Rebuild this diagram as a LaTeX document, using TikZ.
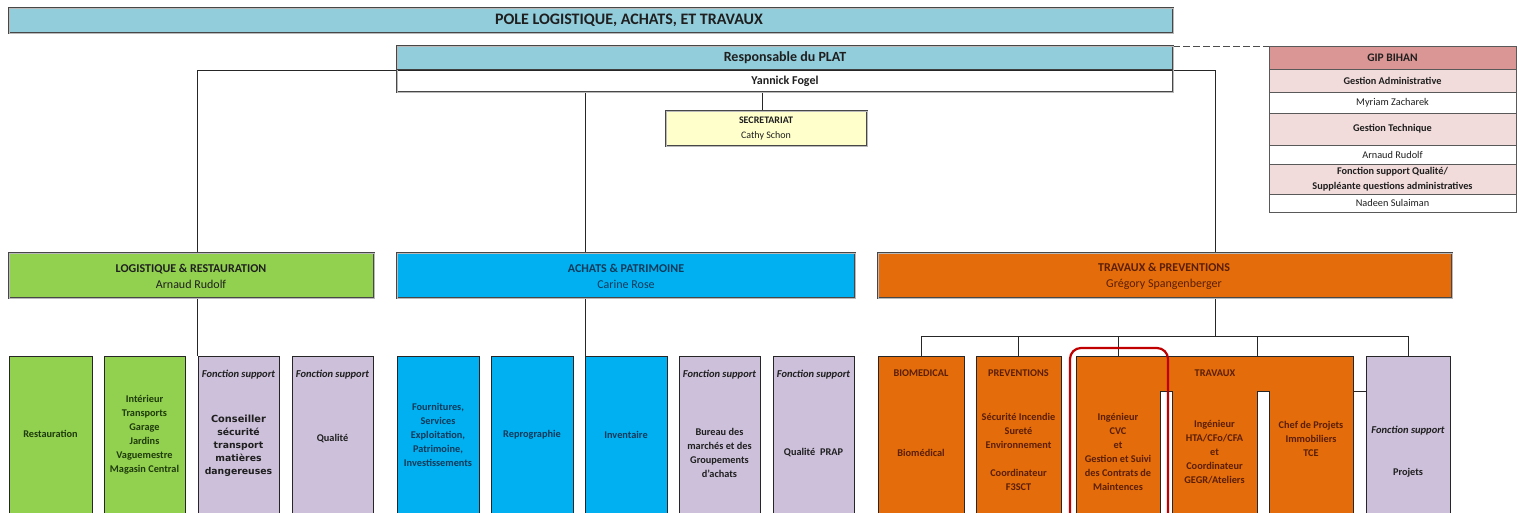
\documentclass[tikz,border=0pt]{standalone}
\usepackage{fontspec}
\setmainfont{Carlito}
\newfontfamily\verdfont{DejaVu Sans}
\definecolor{bannerblue}{HTML}{92CDDC}
\definecolor{lgreen}{HTML}{92D050}
\definecolor{lblue}{HTML}{00B0F0}
\definecolor{lorange}{HTML}{E46C0A}
\definecolor{lilac}{HTML}{CCC0DA}
\definecolor{lyellow}{HTML}{FFFFCC}
\definecolor{rose}{HTML}{DA9694}
\definecolor{pinkl}{HTML}{F2DCDB}
\definecolor{redframe}{HTML}{C00000}
\definecolor{tgreen}{HTML}{1E3B0A}
\definecolor{tblue}{HTML}{103A5A}
\definecolor{tbrown}{HTML}{5A1E05}
\definecolor{tdark}{HTML}{1F1F1F}
\pgfdeclarelayer{back}
\pgfdeclarelayer{bg}
\pgfsetlayers{back,bg,main}
\tikzset{
  every node/.style={inner sep=0pt, outer sep=0pt},
  conn/.style={draw=black!85, line width=0.9pt},
  dblbox/.style={draw=black!72, line width=0.8pt, double=gray!55, double distance=0.9pt},
  cell/.style={draw=black!85, line width=0.8pt},
  gipcell/.style={draw=black!65, line width=0.6pt},
  txt/.style={align=center, font=\fontsize{10.3}{14}\selectfont\bfseries},
  fs/.style={font=\fontsize{10.5}{14}\selectfont\bfseries\itshape, text=tdark},
  deptt/.style={align=center, font=\fontsize{12}{16}\selectfont},
  giptxt/.style={align=center, font=\fontsize{10.3}{15}\selectfont, text=tdark},
}
\newcommand\bx[6]{\node[#2, anchor=north west, minimum width={#5-#3}, minimum height={#6-#4}] (#1) at (#3,#4) {};}
\begin{document}
\begin{tikzpicture}[x=1pt,y=-1pt]
\useasboundingbox (0,0) rectangle (1521,513);
\clip (0,0) rectangle (1521,513);
\begin{pgfonlayer}{back}
\fill[white] (0,0) rectangle (1521,513);
\end{pgfonlayer}

% banner
\bx{banner}{dblbox, fill=bannerblue}{9}{8}{1173}{33}
\node[font=\fontsize{16}{18}\selectfont\bfseries, text=tdark] (bannert) at (629,20.5) {POLE LOGISTIQUE, ACHATS, ET TRAVAUX};

% responsable
\bx{resphead}{fill=bannerblue}{397}{46}{1173}{69}
\bx{resp}{dblbox, fill=none}{397}{46}{1173}{92}
\draw[black!75, line width=0.8pt] (resphead.south west) -- (resphead.south east);
\node[font=\fontsize{14}{16}\selectfont\bfseries, text=tdark] (respt) at (785,58) {Responsable du PLAT};
\node[font=\fontsize{12}{14}\selectfont\bfseries, text=tdark] (respn) at (785,81) {Yannick Fogel};

% secretariat
\bx{secr}{dblbox, fill=lyellow}{666}{111}{867}{146}
\node[font=\fontsize{10}{15}\selectfont, align=center, text=tdark] (secrt) at (766,128.5) {\textbf{SECRETARIAT}\\Cathy Schon};

% GIP BIHAN
\bx{gip0}{gipcell, fill=rose}{1269}{46}{1516}{69}
\bx{gip1}{gipcell, fill=pinkl}{1269}{69}{1516}{92}
\bx{gip2}{gipcell, fill=white}{1269}{92}{1516}{113}
\bx{gip3}{gipcell, fill=pinkl}{1269}{113}{1516}{145}
\bx{gip4}{gipcell, fill=white}{1269}{145}{1516}{164}
\bx{gip5}{gipcell, fill=pinkl}{1269}{164}{1516}{194}
\bx{gip6}{gipcell, fill=white}{1269}{194}{1516}{212}
\node[giptxt, font=\fontsize{11.5}{13}\selectfont\bfseries] (gipt0) at (gip0.center) {GIP BIHAN};
\node[giptxt, font=\fontsize{10.3}{12}\selectfont\bfseries] (gipt1) at (gip1.center) {Gestion Administrative};
\node[giptxt] (gipt2) at (gip2.center) {Myriam Zacharek};
\node[giptxt, font=\fontsize{10.3}{12}\selectfont\bfseries] (gipt3) at (gip3.center) {Gestion Technique};
\node[giptxt] (gipt4) at (gip4.center) {Arnaud Rudolf};
\node[giptxt, font=\fontsize{10.3}{15}\selectfont\bfseries] (gipt5) at (1392.5,179) {Fonction support Qualité/\\Suppléante questions administratives};
\node[giptxt] (gipt6) at (gip6.center) {Nadeen Sulaiman};

% departments
\bx{logi}{dblbox, fill=lgreen}{9}{253}{374}{298}
\bx{acha}{dblbox, fill=lblue}{397}{253}{855}{298}
\bx{trav}{dblbox, fill=lorange}{878}{253}{1452}{298}
\node[deptt, text=tdark] (logit) at (191,276) {\textbf{LOGISTIQUE \& RESTAURATION}\\Arnaud Rudolf};
\node[deptt, text=tblue] (achat) at (626,276) {\textbf{ACHATS \& PATRIMOINE}\\Carine Rose};
\node[deptt, text=tbrown] (travt) at (1164,276) {\textbf{TRAVAUX \& PREVENTIONS}\\Grégory Spangenberger};

% bottom boxes
\bx{resto}{cell, fill=lgreen}{9}{356}{92}{530}
\bx{inter}{cell, fill=lgreen}{104}{356}{185}{530}
\bx{cons}{cell, fill=lilac}{198}{356}{279}{530}
\bx{qual}{cell, fill=lilac}{292}{356}{373}{530}
\bx{fourn}{cell, fill=lblue}{397}{356}{479}{530}
\bx{repro}{cell, fill=lblue}{491}{356}{573}{530}
\bx{inv}{cell, fill=lblue}{585}{356}{667}{530}
\bx{bur}{cell, fill=lilac}{679}{356}{760}{530}
\bx{prap}{cell, fill=lilac}{773}{356}{854}{530}
\bx{bio}{cell, fill=lorange}{878}{356}{964}{530}
\bx{prev}{cell, fill=lorange}{976}{356}{1061}{530}
\filldraw[cell, fill=lorange] (1076,356) -- (1353,356) -- (1353,530) -- (1269,530) -- (1269,391) -- (1257,391) -- (1257,530) -- (1172,530) -- (1172,391) -- (1160,391) -- (1160,530) -- (1076,530) -- cycle;
\coordinate (cvctop) at (1118,356);
\coordinate (travtop) at (1257,356);
\coordinate (travright) at (1353,391);
\bx{proj}{cell, fill=lilac}{1366}{356}{1450}{530}

% texts of bottom boxes
\node[txt, text=tgreen] (restot) at (50.5,434) {Restauration};
\node[txt, text=tgreen] (intert) at (144.5,435) {Intérieur\\Transports\\Garage\\Jardins\\Vaguemestre\\Magasin Central};
\node[fs] (consf) at (238.5,375) {Fonction support};
\node[align=center, font=\verdfont\fontsize{9.3}{13}\selectfont\bfseries, text=tdark] (const) at (238.5,446) {{\fontsize{9.8}{13}\selectfont Conseiller}\\sécurité\\transport\\matières\\dangereuses};
\node[fs] (qualf) at (332.5,375) {Fonction support};
\node[txt, text=tdark] (qualt) at (332.5,439) {Qualité};

\node[txt, text=tblue] (fournt) at (438,435) {Fournitures,\\Services\\Exploitation,\\Patrimoine,\\Investissements};
\node[txt, text=tblue] (reprot) at (532,435) {Reprographie};
\node[txt, text=tblue] (invt) at (626,435) {Inventaire};
\node[fs] (burf) at (719.5,375) {Fonction support};
\node[txt, text=tdark] (burt) at (719.5,453) {Bureau des\\marchés et des\\Groupements\\d'achats};
\node[fs] (prapf) at (813.5,375) {Fonction support};
\node[txt, text=tdark] (prapt) at (813.5,453) {Qualité~~PRAP};

\node[txt, text=tbrown] (biot) at (921,373) {BIOMEDICAL};
\node[txt, text=tbrown] (biot2) at (921,453) {Biomédical};
\node[txt, text=tbrown] (prevt) at (1018.5,373) {PREVENTIONS};
\node[txt, text=tbrown] (prevt2) at (1018.5,452.3) {Sécurité Incendie\\Sureté\\Environnement\\[14pt]Coordinateur\\F3SCT};
\node[txt, text=tbrown] (cvct) at (1118,452) {Ingénieur\\CVC\\et\\Gestion et Suivi\\des Contrats de\\Maintences};
\node[txt, text=tbrown] (travh) at (1215,373) {TRAVAUX};
\node[txt, text=tbrown] (htat) at (1214.5,452.5) {Ingénieur\\HTA/CFo/CFA\\et\\Coordinateur\\GEGR/Ateliers};
\node[txt, text=tbrown] (cheft) at (1311,438.5) {Chef de Projets\\Immobiliers\\TCE};
\node[fs] (projf) at (1408,431) {Fonction support};
\node[txt, text=tdark] (projt) at (1408,473) {Projets};

% red frame
\draw[redframe, line width=2.2pt, rounded corners=11pt] (1070,348) rectangle (1168,540);

% connectors
\coordinate (hbar) at (0,70);
\coordinate (lx) at (197,0);
\coordinate (ax) at (585,0);
\coordinate (tx) at (1215,0);
\coordinate (sx) at (762,0);
\coordinate (bus) at (0,336);
\begin{pgfonlayer}{bg}
\draw[conn] (logi.north -| lx) -- (lx |- hbar) -- (tx |- hbar) -- (trav.north -| tx);
\draw[conn] (resp.south -| ax) -- (acha.north -| ax);
\draw[conn] (resp.south -| sx) -- (secr.north -| sx);
\draw[conn] (logi.south -| lx) -- (cons.north -| lx);
\draw[conn] (acha.south -| ax) -- (inv.north -| ax);
\draw[conn] (trav.south -| tx) -- (tx |- bus);
\draw[conn] (bio.north) -- (bio.north |- bus) -- (proj.north |- bus) -- (proj.north);
\draw[conn] (prev.north) -- (prev.north |- bus);
\draw[conn] (cvctop) -- (cvctop |- bus);
\draw[conn] (travtop) -- (travtop |- bus);
\draw[conn] (travright) -- (proj.west |- travright);
\draw[conn, draw=black!70, dash pattern=on 7pt off 3pt] (resp.north east) -- (gip0.north west);
\end{pgfonlayer}
\end{tikzpicture}
\end{document}
